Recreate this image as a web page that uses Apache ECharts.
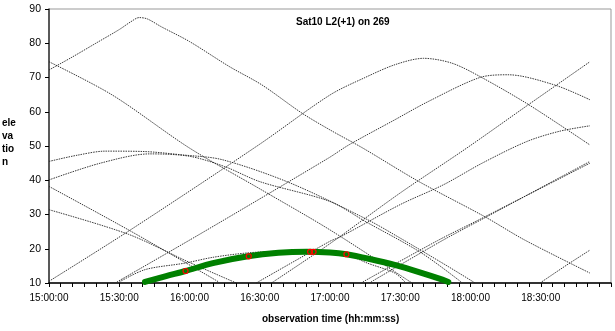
<!DOCTYPE html>
<html><head><meta charset="utf-8">
<script src="https://cdn.jsdelivr.net/npm/echarts@6.0.0/dist/echarts.min.js"></script>
<style>html,body{margin:0;padding:0;background:#fff}#c{width:615px;height:331px}</style>
</head><body><div id="c"></div>
<script>
// time in minutes after 15:00:00, elevation in degrees
const xTickLabels = ['15:00:00','15:30:00','16:00:00','16:30:00','17:00:00','17:30:00','18:00:00','18:30:00'];
const trackL1 = [[0,72.2],[10,76],[20,80],[30,84],[35,86.3],[38.5,87.5],[42,87.1],[48,84.8],[60,80.5],[77,73.2],[91,67.8],[108,59.6],[120,54.7],[134,49.4],[158,39.6],[186,29.4],[203,22.6],[231,12.9]];
const trackL2 = [[0,74.6],[27,64.9],[60,49.4],[90,37.5],[120,25.5],[155,10]];
const trackUA = [[0,45.5],[12,47.3],[24,48.5],[40,48.4],[57,47.4],[74,46],[103,39.2],[136,28.5],[150,23.1],[170,15],[182,10]];
const trackLA = [[0,40.1],[22,45],[43,47.7],[60,47],[75,44],[90,39.6],[120,33.8],[135,28],[159,18.8],[176,10.3]];
const trackD = [[0,38.2],[35,25.1],[72.5,10.3]];
const trackE = [[0,31.4],[34,24.2],[60,16],[80,10]];
const trackA = [[0,10.5],[35,25.6],[89.5,50.3],[120,64.9],[135,70],[148,73.8],[160,75.6],[172,74.2],[184,70.3],[205,62],[231,50.3]];
const trackB = [[29,10.3],[65,24.5],[119.4,46.5],[128,50.3],[147,57.4],[162,63],[184,70],[196,70.8],[216,67.8],[231,63.5]];
const trackR75 = [[95,10],[120,21.5],[150,36.3],[178.4,49.4],[204.6,62],[231,74.6]];
const trackR56 = [[88.5,10],[120,22.2],[124.5,23.5],[150,32.9],[168.5,38.7],[185,45],[204,51.3],[218,54.3],[231,55.9]];
const trackR45a = [[137.5,10.3],[168.5,22.6],[186,29],[231,45.5]];
const trackR45b = [[134,10.3],[166,22.4],[184,28.6],[231,45]];
const trackR20 = [[209.7,10],[221,15.2],[231,19.6]];
const trackG0 = [[30,10.3],[41,13.9],[58,15.8],[70,17.5],[85,18.8],[100,19.3],[115,19.2],[127,18.3],[136,15.8],[147.7,12.9],[152,10.3]];
const greenTrack = [[41,10.3],[50,12],[58.3,13.5],[70,15.8],[85,17.8],[98,18.8],[110,19.1],[120,18.9],[127,18.4],[137,17],[148,15.2],[158,13.2],[168,11],[170.5,10.3]];
const redMarks = [[58.3,13.5],[85.3,17.8],[111.5,19.1],[113,19.1],[127,18.4]];

const blackTracks = [trackL1,trackL2,trackUA,trackLA,trackD,trackE,trackA,trackB,trackR75,trackR56,trackR45a,trackR45b,trackR20,trackG0];
const font = 'Liberation Sans, Arial, sans-serif';
const series = blackTracks.map(d => ({
  type:'line', data:d, smooth:0.3, symbol:'none', clip:true,
  lineStyle:{color:'#222', width:0.9, type:[1.5,1]}, z:2
}));
series.push({type:'line', data:greenTrack, smooth:0.3, symbol:'none', clip:true,
  lineStyle:{color:'#008000', width:6, cap:'round'}, z:3});
series.push({type:'scatter', data:redMarks, symbol:'circle', symbolSize:5,
  itemStyle:{color:'rgba(0,128,0,0)', borderColor:'#ff0000', borderWidth:1.2, opacity:1}, z:4});

const chart = echarts.init(document.getElementById('c'), null, {renderer:'canvas'});
chart.setOption({
  animation:false,
  backgroundColor:'#fff',
  grid:{left:49, right:4, top:9, bottom:48, show:true, borderColor:'#999', borderWidth:1},
  xAxis:{type:'value', min:0, max:240, interval:30,
    axisLine:{lineStyle:{color:'#000', width:1.5}},
    axisTick:{show:true, inside:false, length:4, lineStyle:{color:'#000'}},
    minorTick:{show:true, splitNumber:6, length:4, lineStyle:{color:'#000'}},
    splitLine:{show:false},
    axisLabel:{fontFamily:font, fontSize:10, color:'#000', margin:10,
      formatter:v => xTickLabels[Math.round(v/30)] || ''}},
  yAxis:{type:'value', min:10, max:90, interval:10,
    axisLine:{show:true, lineStyle:{color:'#333', width:1.5}},
    axisTick:{show:true, inside:false, length:4, lineStyle:{color:'#000'}},
    splitLine:{show:false},
    axisLabel:{fontFamily:font, fontSize:10.5, color:'#000', margin:8}},
  graphic:[
    {type:'text', left:296, top:17, style:{text:'Sat10 L2(+1) on 269', font:'bold 10px '+font, fill:'#000'}},
    {type:'text', left:2, top:117, style:{text:'ele\nva\ntio\nn', font:'bold 10px '+font, fill:'#000', lineHeight:13}},
    {type:'text', left:262, top:314, style:{text:'observation time (hh:mm:ss)', font:'bold 10px '+font, fill:'#000'}}
  ],
  series:series
});
</script></body></html>
